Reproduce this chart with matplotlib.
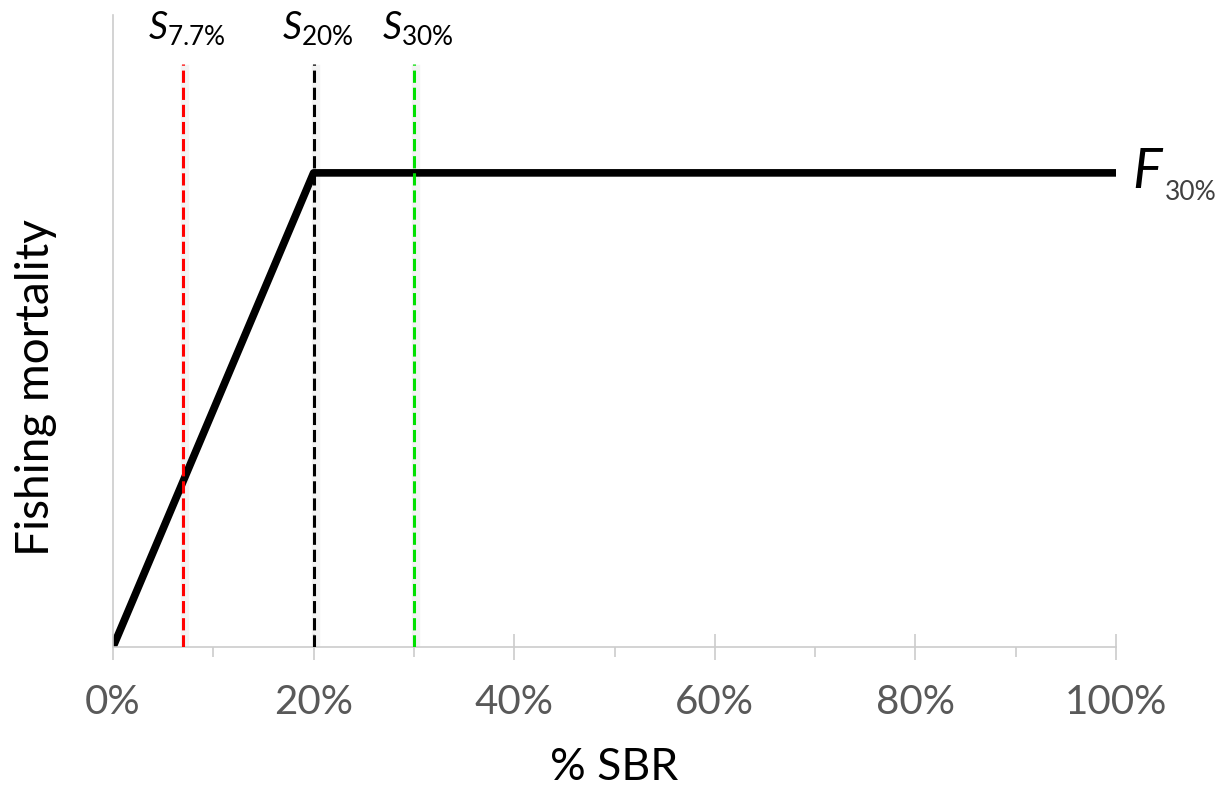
import matplotlib.pyplot as plt
from matplotlib.ticker import MultipleLocator, FuncFormatter

plt.rcParams['font.family'] = ['Lato', 'DejaVu Sans']
plt.rcParams['mathtext.fontset'] = 'custom'
plt.rcParams['mathtext.rm'] = 'Lato'
plt.rcParams['mathtext.it'] = 'Lato:italic'

# harvest control rule: F ramps up to the target at S20% then stays flat
sbr = [0.0, 0.20, 1.0]
fishing = [0.0, 1.0, 1.0]

# reference points (x position as drawn, label, colour)
ref_x = [0.07, 0.20, 0.30]
ref_labels = ['7.7%', '20%', '30%']
ref_colors = ['#ff0000', 'black', '#00e000']
ref_top = 1.23

fig = plt.figure(figsize=(12.25, 7.95), dpi=100)
ax = fig.add_axes([113/1225, 148/795, 1003/1225, 632/795])

ax.plot(sbr, fishing, color='black', lw=5.5, solid_capstyle='butt', zorder=2)

for x, lab, c in zip(ref_x, ref_labels, ref_colors):
    # faint glow behind the dashed marker lines
    ax.plot([x + 0.002, x + 0.002], [0, ref_top - 0.01], color='#f3f3f3', lw=6, zorder=1)
    ax.plot([x, x], [0, ref_top], color=c, lw=2.2, dashes=(4, 1.6), zorder=3)
    ax.text(x + 0.004, 1.265, r'$\mathit{S}_{\mathregular{' + lab.replace('%', r'\%') + '}}$',
            ha='center', va='bottom', fontsize=27)

ax.annotate('F', xy=(1.0, 1.0), xytext=(12, 0), textcoords='offset points',
            fontstyle='italic', fontsize=40, ha='left', va='center')
ax.annotate('30%', xy=(1.0, 1.0), xytext=(35, -14), textcoords='offset points',
            fontsize=19, ha='left', va='center', color='#404040')

ax.set_xlim(0, 1)
ax.set_ylim(0, 1.333)

for s in ['top', 'right']:
    ax.spines[s].set_visible(False)
for s in ['left', 'bottom']:
    ax.spines[s].set_color('#cccccc')
    ax.spines[s].set_linewidth(1.2)

ax.xaxis.set_major_locator(MultipleLocator(0.2))
ax.xaxis.set_minor_locator(MultipleLocator(0.1))
ax.xaxis.set_major_formatter(FuncFormatter(lambda v, p: f'{v*100:.0f}%'))
ax.tick_params(axis='x', which='major', direction='inout', length=19, width=1.2,
               color='#cccccc', labelsize=29, labelcolor='#595959', pad=17)
ax.tick_params(axis='x', which='minor', direction='out', length=7, width=1.2,
               color='#cccccc')
ax.set_yticks([])

ax.set_xlabel('% SBR', fontsize=32, va='top')
ax.xaxis.set_label_coords(0.5, -0.158)
ax.set_ylabel('Fishing mortality', fontsize=33)
ax.yaxis.set_label_coords(-0.056, 0.41)

fig.savefig('out.png', dpi=100)
